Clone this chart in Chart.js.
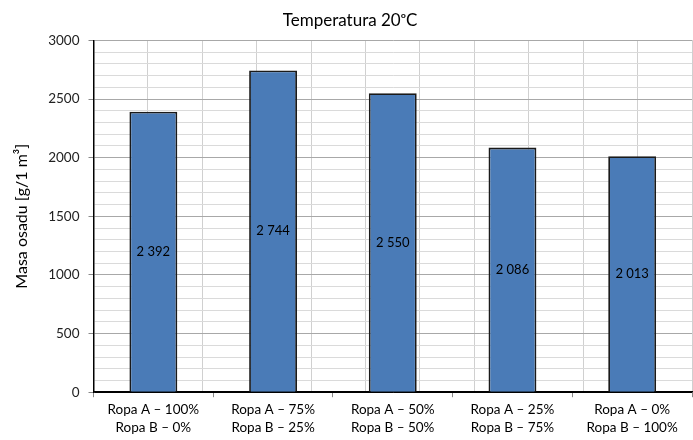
<!DOCTYPE html>
<html>
<head>
<meta charset="utf-8">
<script src="https://cdn.jsdelivr.net/npm/chart.js@4.4.1/dist/chart.umd.min.js"></script>
<style>
  html, body { margin: 0; padding: 0; background: #fff; }
  #wrap { width: 693px; height: 440px; }
</style>
</head>
<body>
<div id="wrap"><canvas id="chart"></canvas></div>
<script>
// --- data ---
const categories = [
    ["Ropa A \u2013 100%", "Ropa B \u2013 0%"],
    ["Ropa A \u2013 75%", "Ropa B \u2013 25%"],
    ["Ropa A \u2013 50%", "Ropa B \u2013 50%"],
    ["Ropa A \u2013 25%", "Ropa B \u2013 75%"],
    ["Ropa A \u2013 0%", "Ropa B \u2013 100%"]
];
const masa = [2392, 2744, 2550, 2086, 2013];
const yMin = 0, yMax = 3000, yMinorStep = 100, yMajorStep = 500;

const FONT = "Lato, 'Open Sans', sans-serif";

// liczby ze spacja jako separatorem tysiecy
const fmt = v => String(v).replace(/\B(?=(\d{3})+(?!\d))/g, " ");
const tickVal = c => (c && c.tick) ? c.tick.value : null;

// etykiety wartosci w srodku slupkow
const barLabels = {
    id: "barLabels",
    afterDatasetsDraw(chart) {
        const ctx = chart.ctx;
        const meta = chart.getDatasetMeta(0);
        ctx.save();
        ctx.font = "13px " + FONT;
        ctx.fillStyle = "#000";
        ctx.textAlign = "center";
        ctx.textBaseline = "middle";
        meta.data.forEach((bar, i) => {
            ctx.fillText(fmt(masa[i]), bar.x, (bar.y + bar.base) / 2);
        });
        ctx.restore();
    }
};

const ctx = document.getElementById("chart").getContext("2d");
new Chart(ctx, {
    type: "bar",
    data: {
        labels: categories,
        datasets: [{
            label: "Masa osadu",
            data: masa,
            backgroundColor: "#4a7bb7",
            borderColor: "#1a1a1a",
            borderWidth: 1.8,
            barPercentage: 0.4,
            categoryPercentage: 1
        }]
    },
    options: {
        responsive: true,
        maintainAspectRatio: false,
        animation: false,
        layout: { padding: { left: 8, right: 1, top: 0, bottom: 0 } },
        plugins: {
            legend: { display: false },
            tooltip: { enabled: false },
            title: {
                display: true,
                text: "Temperatura 20\u1D52C",
                color: "#000",
                font: { family: FONT, size: 17, weight: "normal" },
                padding: { top: 10, bottom: 10 }
            }
        },
        scales: {
            x: {
                type: "category",
                offset: true,
                grid: { offset: true, drawOnChartArea: false, drawTicks: true, tickLength: 5, color: "#888" },
                border: { display: true, color: "#000", width: 1.5 },
                ticks: {
                    color: "#000",
                    padding: 2.5,
                    maxRotation: 0,
                    autoSkip: false,
                    font: { family: FONT, size: 13.5, lineHeight: 1.4 }
                }
            },
            // pomocnicza os tylko dla pionowych linii siatki (co pol kategorii)
            xg: {
                type: "linear",
                position: "top",
                min: 0,
                max: categories.length * 2,
                ticks: { display: false, stepSize: 1 },
                grid: {
                    drawTicks: false,
                    color: c => tickVal(c) === 0 ? "rgba(0,0,0,0)" : "#d0d0d0"
                },
                border: { display: false }
            },
            y: {
                min: yMin,
                max: yMax,
                grid: {
                    tickLength: 5,
                    color: c => {
                        const v = tickVal(c);
                        if (v === null) return "#a8a8a8";
                        return v === 0 ? "#000" : (v % yMajorStep === 0 ? "#a8a8a8" : "#dadada");
                    },
                    tickColor: c => {
                        const v = tickVal(c);
                        return (v !== null && v % yMajorStep === 0) ? "#888" : "rgba(0,0,0,0)";
                    }
                },
                border: { display: true, color: "#000", width: 1.5 },
                ticks: {
                    stepSize: yMinorStep,
                    autoSkip: false,
                    padding: 9,
                    color: "#222",
                    font: { family: FONT, size: 13.5 },
                    callback: v => v % yMajorStep === 0 ? v : ""
                },
                title: {
                    display: true,
                    text: "Masa osadu [g/1 m\u00B3]",
                    color: "#000",
                    font: { family: FONT, size: 16 },
                    padding: { top: 4, bottom: 8 }
                }
            }
        }
    },
    plugins: [barLabels]
});
</script>
</body>
</html>
